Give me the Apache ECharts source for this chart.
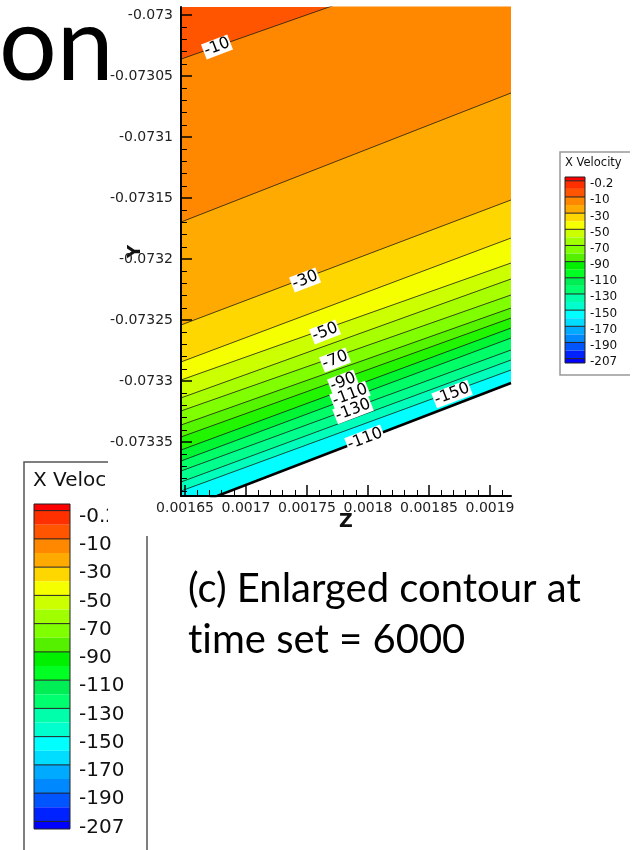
<!DOCTYPE html>
<html>
<head>
<meta charset="utf-8">
<script src="https://cdn.jsdelivr.net/npm/echarts@6/dist/echarts.min.js"></script>
<style>
html, body { margin: 0; padding: 0; background: #fff; }
#main { width: 639px; height: 850px; }
</style>
</head>
<body>
<div id="main"></div>
<script>
// axis ranges of the enlarged view
var zRange = [0.0016467, 0.0019172];
var yRange = [-0.0733943, -0.0729934];
var zTicks = [0.00165, 0.0017, 0.00175, 0.0018, 0.00185, 0.0019];
var zTickLabels = ['0.00165', '0.0017', '0.00175', '0.0018', '0.00185', '0.0019'];
var yTicks = [-0.07335, -0.0733, -0.07325, -0.0732, -0.07315, -0.0731, -0.07305, -0.073];
var yTickLabels = ['-0.07335', '-0.0733', '-0.07325', '-0.0732', '-0.07315', '-0.0731', '-0.07305', '-0.073'];

// contour lines, Y value at left and right edge of the view
var lineZ = [0.0016467, 0.0019172];
var contourLevels = [-10, -20, -30, -40, -50, -60, -70, -80, -90, -100, -110, -120, -130, -140];
var contourY = [
    [-0.0730361, -0.0729410],
    [-0.0731697, -0.0730639],
    [-0.0732541, -0.0731516],
    [-0.0732844, -0.0731828],
    [-0.0732992, -0.0732033],
    [-0.0733139, -0.0732164],
    [-0.0733246, -0.0732295],
    [-0.0733361, -0.0732402],
    [-0.0733459, -0.0732484],
    [-0.0733566, -0.0732566],
    [-0.0733656, -0.0732648],
    [-0.0733738, -0.0732746],
    [-0.0733828, -0.0732828],
    [-0.0733902, -0.0732910]
];
// first colour = above the first line, then the band below each line
var bandColors = ['#ff5500', '#ff8800', '#ffaa00', '#ffd700', '#f5ff00', '#ccff00', '#a8ff00',
    '#80ff00', '#55f500', '#22f500', '#00f533', '#00ff66', '#00ff8c', '#00ffbb', '#00ffff'];
// wall (edge of the domain)
var wallY = [-0.0734057, -0.0733016];

// contour labels
var labelText = ['-10', '-30', '-50', '-70', '-90', '-110', '-130', '-150', '-110'];
var labelZ = [0.0016762, 0.0017484, 0.0017648, 0.0017730, 0.0017795, 0.0017852, 0.0017877, 0.0018689, 0.0017975];
var labelY = [-0.0730262, -0.0732172, -0.0732598, -0.0732828, -0.0733008, -0.0733115, -0.0733238, -0.0733107, -0.0733475];

// colour legend (top to bottom)
var legendLabels = ['-0.2', '-10', '-30', '-50', '-70', '-90', '-110', '-130', '-150', '-170', '-190', '-207'];
var legendColors = ['#ff0000', '#ff3000', '#ff5500', '#ff8800', '#ffaa00', '#ffd700', '#f5ff00', '#ccff00',
    '#a0ff00', '#80ff00', '#55f000', '#00f000', '#00ff22', '#00ee55', '#00ff6e', '#00ffaa', '#00ffcc',
    '#00ffff', '#00ddff', '#00aaff', '#0088ff', '#0055ff', '#0022ff', '#0000ff'];

// legend index space: separators at 22, 20, ... 0, small strips at both ends
var nSub = legendColors.length - 2;
var legendTop = nSub + 0.47, legendBottom = -0.54;
var labelDrop = 0.42;   // labels sit a little below their separator
var legendBands = legendColors.map(function (c, i) {
    if (i === 0) return [nSub, legendTop];
    if (i === legendColors.length - 1) return [legendBottom, 0];
    return [nSub - i, nSub - i + 1];
});
var sepValues = legendLabels.map(function (t, k) { return nSub - 2 * k; });

function legendLabel(v) {
    var k = Math.round((nSub - v) / 2);
    return Math.abs(nSub - 2 * k - v) < 0.5 && legendLabels[k] ? legendLabels[k] : '';
}
function tickLabel(ticks, labels) {
    return function (v) {
        for (var i = 0; i < ticks.length; i++) {
            if (Math.abs(ticks[i] - v) < 1e-9) return labels[i];
        }
        return '';
    };
}

function bandItem(params, api) {
    var p0 = api.coord([0, api.value(1)]);
    var p1 = api.coord([1, api.value(0)]);
    return {
        type: 'rect',
        shape: { x: p0[0], y: p0[1], width: p1[0] - p0[0], height: p1[1] - p0[1] },
        style: { fill: legendColors[params.dataIndex] }
    };
}
function sepItem(params, api) {
    var a = api.coord([0, api.value(0)]);
    var b = api.coord([1, api.value(0)]);
    return {
        type: 'line',
        shape: { x1: a[0], y1: a[1], x2: b[0], y2: b[1] },
        style: { stroke: '#222', lineWidth: 1 }
    };
}
function frameItem(params, api) {
    var p0 = api.coord([0, legendTop]);
    var p1 = api.coord([1, legendBottom]);
    return {
        type: 'rect',
        shape: { x: p0[0], y: p0[1], width: p1[0] - p0[0], height: p1[1] - p0[1] },
        style: { fill: null, stroke: '#222', lineWidth: 1 }
    };
}

var chart = echarts.init(document.getElementById('main'));

var series = [];
contourY.forEach(function (ys, i) {
    series.push({
        name: String(contourLevels[i]),
        type: 'line', xAxisIndex: 0, yAxisIndex: 0, z: 4,
        data: lineZ.map(function (z, j) { return [z, ys[j]]; }),
        symbol: 'none', silent: true,
        lineStyle: { color: '#1a1a1a', width: 0.8 },
        areaStyle: { color: bandColors[i + 1], opacity: 1, origin: 'start' }
    });
});
series.push({
    name: 'wall',
    type: 'line', xAxisIndex: 0, yAxisIndex: 0, z: 5,
    data: lineZ.map(function (z, j) { return [z, wallY[j]]; }),
    symbol: 'none', silent: true,
    lineStyle: { color: '#000', width: 2.6 },
    areaStyle: { color: '#fff', opacity: 1, origin: 'start' }
});
series.push({
    name: 'labels',
    type: 'scatter', xAxisIndex: 0, yAxisIndex: 0, z: 6,
    symbolSize: 1, itemStyle: { color: '#fff', opacity: 1 }, silent: true,
    data: labelText.map(function (t, i) { return { name: t, value: [labelZ[i], labelY[i]] }; }),
    label: {
        show: true, position: 'inside', formatter: '{b}', rotate: 21, opacity: 1,
        fontFamily: 'DejaVu Sans', fontSize: 16, color: '#000',
        backgroundColor: '#ffffff', padding: [0, 1, 0, 1]
    }
});
// big legend (lower left) and small legend (right)
[[1, 1], [2, 7]].forEach(function (g) {
    series.push({
        type: 'custom', xAxisIndex: g[0], yAxisIndex: g[0], z: g[1],
        renderItem: bandItem, data: legendBands, silent: true
    });
    series.push({
        type: 'custom', xAxisIndex: g[0], yAxisIndex: g[0], z: g[1],
        renderItem: sepItem, data: sepValues.map(function (v) { return [v]; }), silent: true
    });
    series.push({
        type: 'custom', xAxisIndex: g[0], yAxisIndex: g[0], z: g[1],
        renderItem: frameItem, data: [[0]], silent: true
    });
});

var legendX = function (idx) {
    return { gridIndex: idx, type: 'value', min: 0, max: 1, show: false };
};
var legendY = function (idx, size, margin, z) {
    return {
        gridIndex: idx, type: 'value', min: legendBottom, max: legendTop, position: 'right', z: z,
        axisLine: { show: false }, axisTick: { show: false }, splitLine: { show: false },
        axisLabel: {
            customValues: sepValues.map(function (v) { return v - labelDrop; }),
            formatter: legendLabel, margin: margin,
            fontFamily: 'DejaVu Sans', fontSize: size, color: '#111'
        }
    };
};

chart.setOption({
    animation: false,
    grid: [
        { left: 181, top: 7, width: 330, height: 489, show: true, backgroundColor: bandColors[0], borderWidth: 0, z: 4 },
        { left: 34, top: 504, width: 36, height: 325, z: 1 },
        { left: 565, top: 177, width: 20, height: 186, z: 7 }
    ],
    xAxis: [
        {
            gridIndex: 0, type: 'value', min: zRange[0], max: zRange[1], splitNumber: 5, z: 6,
            name: 'Z', nameLocation: 'middle', nameGap: 17, nameMoveOverlap: false,
            nameTextStyle: { fontFamily: 'DejaVu Sans', fontWeight: 'bold', fontSize: 19, color: '#111' },
            axisLine: { lineStyle: { color: '#000', width: 2 } },
            axisTick: { inside: true, length: 11, customValues: zTicks, lineStyle: { color: '#000', width: 1.5 } },
            minorTick: { show: true, splitNumber: 5, length: 6, lineStyle: { color: '#000', width: 1 } },
            splitLine: { show: false },
            axisLabel: {
                customValues: zTicks, formatter: tickLabel(zTicks, zTickLabels), margin: 5,
                fontFamily: 'DejaVu Sans', fontSize: 14, color: '#222'
            }
        },
        legendX(1), legendX(2)
    ],
    yAxis: [
        {
            gridIndex: 0, type: 'value', min: yRange[0], max: yRange[1], splitNumber: 8, z: 6,
            name: 'Y', nameLocation: 'middle', nameGap: 37, nameMoveOverlap: false,
            nameTextStyle: { fontFamily: 'DejaVu Sans', fontWeight: 'bold', fontSize: 18, color: '#111' },
            axisLine: { lineStyle: { color: '#000', width: 2 } },
            axisTick: { inside: true, length: 11, customValues: yTicks, lineStyle: { color: '#000', width: 1.5 } },
            minorTick: { show: true, splitNumber: 5, length: 6, lineStyle: { color: '#000', width: 1 } },
            splitLine: { show: false },
            axisLabel: {
                customValues: yTicks, formatter: tickLabel(yTicks, yTickLabels), margin: 8,
                fontFamily: 'DejaVu Sans', fontSize: 14, color: '#222'
            }
        },
        legendY(1, 20, 9, 2), legendY(2, 12, 5, 7)
    ],
    graphic: [
        { type: 'text', z: 1, x: -1, y: 47, style: { text: 'on', font: '102px Lato', fill: '#000', verticalAlign: 'middle' } },
        { type: 'rect', z: 1, shape: { x: 24, y: 462, width: 123, height: 420 }, style: { fill: null, stroke: '#555', lineWidth: 1.5 } },
        { type: 'text', z: 1, x: 33, y: 481, style: { text: 'X Velocity', font: '20px "DejaVu Sans"', fill: '#111', verticalAlign: 'middle' } },
        { type: 'rect', z: 3, shape: { x: 108, y: 0, width: 440, height: 536 }, style: { fill: '#fff' } },
        { type: 'polyline', z: 7, shape: { points: [[630, 152], [560, 152], [560, 375], [630, 375]] }, style: { fill: null, stroke: '#999', lineWidth: 1.5 } },
        { type: 'text', z: 7, x: 565, y: 163, style: { text: 'X Velocity', font: '11.5px "DejaVu Sans"', fill: '#111', verticalAlign: 'middle' } },
        { type: 'text', z: 7, x: 188, y: 589, style: { text: '(c) Enlarged contour at', font: '40px Lato', fill: '#000', verticalAlign: 'middle' } },
        { type: 'text', z: 7, x: 188, y: 640, style: { text: 't\u200Cime set = 6000', font: '40px Lato', fill: '#000', verticalAlign: 'middle' } }
    ],
    series: series
});
</script>
</body>
</html>
